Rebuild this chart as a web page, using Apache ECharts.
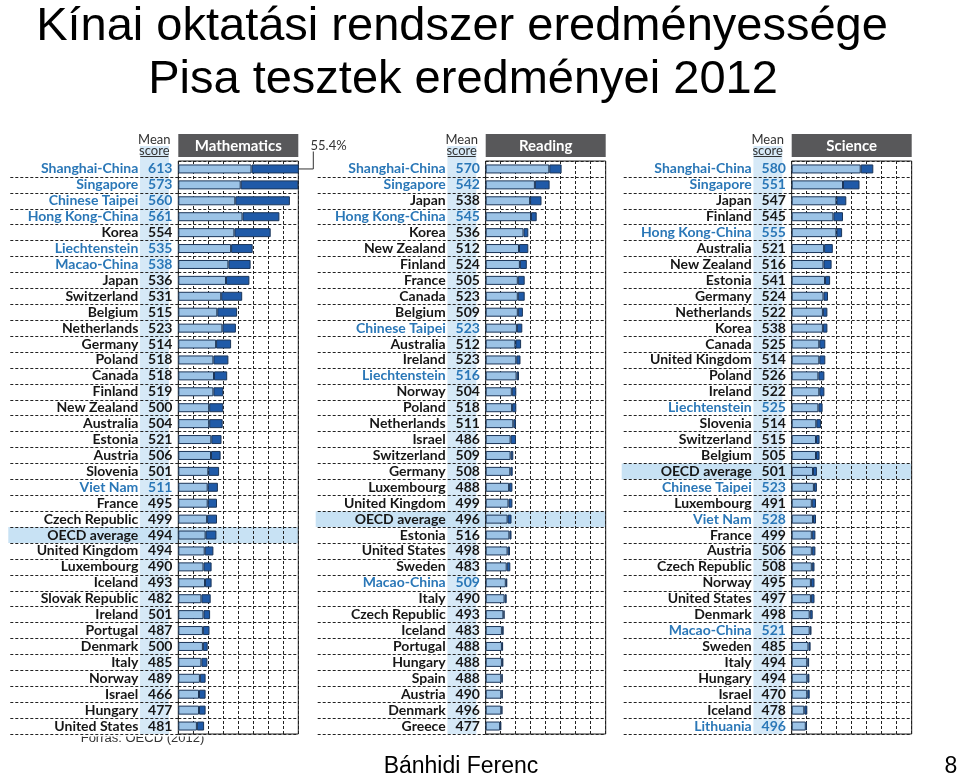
<!DOCTYPE html>
<html><head><meta charset="utf-8">
<script src="https://cdn.jsdelivr.net/npm/echarts@6/dist/echarts.min.js"></script>
<style>html,body{margin:0;padding:0;background:#fff}#c{width:960px;height:776px}</style>
</head><body><div id="c"></div>
<script>
// ---------- DATA ----------
const mathCountries = ['Shanghai-China','Singapore','Chinese Taipei','Hong Kong-China','Korea','Liechtenstein','Macao-China','Japan','Switzerland','Belgium','Netherlands','Germany','Poland','Canada','Finland','New Zealand','Australia','Estonia','Austria','Slovenia','Viet Nam','France','Czech Republic','OECD average','United Kingdom','Luxembourg','Iceland','Slovak Republic','Ireland','Portugal','Denmark','Italy','Norway','Israel','Hungary','United States'];
const mathScores = [613,573,560,561,554,535,538,536,531,515,523,514,518,518,519,500,504,521,506,501,511,495,499,494,494,490,493,482,501,487,500,485,489,466,477,481];
const mathLevel5 = [24.4,20.8,19.0,21.4,18.7,17.6,16.7,15.9,14.3,13.0,14.7,12.6,11.7,11.9,11.7,10.3,10.3,11.0,10.9,10.0,9.8,9.8,9.6,9.1,8.8,8.4,8.9,7.7,8.4,8.2,8.2,7.7,7.2,6.9,6.9,6.2];
const mathLevel6 = [31.0,19.2,18.2,12.3,12.1,7.2,7.4,7.8,7.0,6.6,4.5,5.0,5.0,4.4,3.3,4.7,4.5,3.4,3.2,3.6,3.4,3.1,3.3,3.6,2.9,2.7,2.2,3.1,2.2,2.2,1.6,2.0,1.9,2.2,2.2,2.4];

const readCountries = ['Shanghai-China','Singapore','Japan','Hong Kong-China','Korea','New Zealand','Finland','France','Canada','Belgium','Chinese Taipei','Australia','Ireland','Liechtenstein','Norway','Poland','Netherlands','Israel','Switzerland','Germany','Luxembourg','United Kingdom','OECD average','Estonia','United States','Sweden','Macao-China','Italy','Czech Republic','Iceland','Portugal','Hungary','Spain','Austria','Denmark','Greece'];
const readScores = [570,542,538,545,536,512,524,505,523,509,523,512,523,516,504,518,511,486,509,508,488,499,496,516,498,483,509,490,493,483,488,488,488,490,496,477];
const readLevel5 = [21.2,16.4,14.8,15.1,12.6,11.1,11.4,10.7,10.7,10.7,10.4,9.9,10.2,10.3,8.7,8.8,9.2,8.3,8.3,8.2,7.8,7.6,7.3,7.9,7.3,7.0,6.7,6.3,5.9,5.4,5.4,5.4,5.2,5.2,5.2,4.8];
const readLevel6 = [4.1,4.9,3.8,1.9,1.6,3.1,2.3,2.3,2.3,1.7,1.8,1.9,1.4,0.8,1.5,1.4,0.9,1.8,0.9,0.8,1.1,1.3,1.3,0.7,0.8,1.2,0.5,0.7,0.4,0.6,0.4,0.5,0.5,0.5,0.4,0.4];

const sciCountries = ['Shanghai-China','Singapore','Japan','Finland','Hong Kong-China','Australia','New Zealand','Estonia','Germany','Netherlands','Korea','Canada','United Kingdom','Poland','Ireland','Liechtenstein','Slovenia','Switzerland','Belgium','OECD average','Chinese Taipei','Luxembourg','Viet Nam','France','Austria','Czech Republic','Norway','United States','Denmark','Macao-China','Sweden','Italy','Hungary','Israel','Iceland','Lithuania'];
const sciScores = [580,551,547,545,555,521,516,541,524,522,538,525,514,526,522,525,514,515,505,501,523,491,528,499,506,508,495,497,498,521,485,494,494,470,478,496];
const sciLevel5 = [23.0,17.1,14.9,13.9,14.9,10.8,10.6,11.1,10.6,10.4,10.4,9.2,9.2,8.9,9.2,8.9,8.2,8.1,8.1,7.1,7.4,6.7,7.1,6.7,6.7,6.7,6.4,6.4,6.0,6.0,5.6,5.2,5.2,5.2,4.2,4.7];
const sciLevel6 = [4.2,5.5,3.3,3.2,1.9,2.9,2.7,1.7,1.5,1.5,1.5,2.0,2.0,2.0,1.7,1.4,1.6,1.2,1.2,1.3,1.0,1.4,1.0,1.2,1.2,0.9,1.2,1.2,1.0,0.6,0.7,0.6,0.7,0.8,1.0,0.4];

const partnerEconomies = ['Shanghai-China','Singapore','Chinese Taipei','Hong Kong-China','Liechtenstein','Macao-China','Viet Nam','Lithuania'];
const panelTitles = ['Mathematics','Reading','Science'];
const shanghaiMathTotalLabel = '55.4%';
const xMin = 0, xMax = 40, xInterval = 5;

// ---------- LAYOUT ----------
const panels = [
  {countries: mathCountries, scores: mathScores, l5: mathLevel5, l6: mathLevel6},
  {countries: readCountries, scores: readScores, l5: readLevel5, l6: readLevel6},
  {countries: sciCountries, scores: sciScores, l5: sciLevel5, l6: sciLevel6}
];
const GRID_LEFT = [178.3, 485.7, 791.7];
const GRID_W = 120, GRID_TOP = 161, GRID_H = 573;
const TICK_LEN = 170;
const FONT = 'Lato, "Open Sans", sans-serif';
const BLUE = '#2a77b7', BLACK = '#161616';
const DASH = {color: '#222', type: [3, 2], width: 1};

const chart = echarts.init(document.getElementById('c'));

const grids = [], xAxes = [], yAxes = [], series = [];
const nameStyle = (c) => ({color: c, fontFamily: FONT, fontWeight: 700, fontSize: 14, padding: [0, 6, 0, 0]});
const scoreStyle = (c) => ({color: c, fontFamily: FONT, fontWeight: 700, fontSize: 14, width: 32, align: 'left'});
panels.forEach((p, i) => {
  grids.push({left: GRID_LEFT[i], top: GRID_TOP, width: GRID_W, height: GRID_H,
    show: true, borderColor: '#222', borderWidth: 1, backgroundColor: 'transparent'});
  xAxes.push({gridIndex: i, type: 'value', min: xMin, max: xMax, interval: xInterval, position: 'top',
    axisLabel: {show: false}, axisTick: {show: false}, axisLine: {show: false},
    splitLine: {show: true, lineStyle: DASH}});
  yAxes.push({gridIndex: i, type: 'category', inverse: true, data: p.countries,
    axisLine: {show: false},
    axisTick: {show: true, length: TICK_LEN, interval: (idx) => idx !== 0, lineStyle: DASH},
    splitLine: {show: true, interval: 0, lineStyle: DASH},
    axisLabel: {
      margin: 2, interval: 0,
      formatter: (v, idx) => {
        const isP = partnerEconomies.includes(v);
        return `{${isP ? 'pn' : 'bn'}|${v}}{${isP ? 'ps' : 'bs'}|${p.scores[idx]}}`;
      },
      rich: {bn: nameStyle(BLACK), pn: nameStyle(BLUE), bs: scoreStyle(BLACK), ps: scoreStyle(BLUE)}
    }});
  series.push({type: 'bar', name: 'Level 5', xAxisIndex: i, yAxisIndex: i, stack: 's' + i, data: p.l5,
    barWidth: 9, clip: true, silent: true,
    itemStyle: {color: '#9cc3e6', borderColor: '#1b3558', borderWidth: 1}});
  series.push({type: 'bar', name: 'Level 6', xAxisIndex: i, yAxisIndex: i, stack: 's' + i, data: p.l6,
    barWidth: 9, clip: true, silent: true,
    itemStyle: {color: '#1f5aa8', borderColor: '#1b3558', borderWidth: 1}});
});

chart.setOption({
  animation: false,
  backgroundColor: '#fff',
  textStyle: {fontFamily: FONT},
  grid: grids, xAxis: xAxes, yAxis: yAxes, series: series
});

// ---------- DECORATION (positions from the library's scales) ----------
const g = [];
const bandH = GRID_H / 36;
panels.forEach((p, i) => {
  const L = GRID_LEFT[i];
  g.push({type: 'rect', z: -10, shape: {x: L - 38.3, y: 146, width: 29, height: GRID_TOP + GRID_H - 146},
    style: {fill: '#d6e9f7'}});
  const yo = chart.convertToPixel({yAxisIndex: i}, p.countries.indexOf('OECD average'));
  g.push({type: 'rect', z: -9, shape: {x: L - TICK_LEN, y: yo - bandH / 2, width: TICK_LEN + GRID_W, height: bandH},
    style: {fill: '#c8e2f4'}});
  g.push({type: 'rect', z: 5, shape: {x: L, y: 134, width: GRID_W, height: 23}, style: {fill: '#58585a'}});
  g.push({type: 'text', z: 6, x: L + GRID_W / 2, y: 146, style: {text: panelTitles[i], fill: '#fff',
    font: 'bold 15px ' + FONT, align: 'center', verticalAlign: 'middle'}});
  g.push({type: 'text', z: 6, x: L - 24, y: 139.5, style: {text: 'Mean', fill: '#333',
    font: '13px ' + FONT, align: 'center', verticalAlign: 'middle'}});
  g.push({type: 'text', z: 6, x: L - 24, y: 151, style: {text: 'score', fill: '#333',
    font: '13px ' + FONT, align: 'center', verticalAlign: 'middle'}});
  g.push({type: 'line', z: 6, shape: {x1: L - 38, y1: 156.5, x2: L - 10, y2: 156.5}, style: {stroke: '#333', lineWidth: 1}});
});
const ps = chart.convertToPixel({xAxisIndex: 0, yAxisIndex: 0}, [xMax, 0]);
g.push({type: 'polyline', z: 6, shape: {points: [[ps[0], ps[1]], [313.3, ps[1]], [313.3, 151.5]]},
  style: {stroke: '#333', lineWidth: 1, fill: null}});
g.push({type: 'text', z: 6, x: 310.5, y: 145.5, style: {text: shanghaiMathTotalLabel, fill: '#333',
  font: '13px ' + FONT, align: 'left', verticalAlign: 'middle'}});

const SANS = '"Liberation Sans", Arial, sans-serif';
g.push({type: 'text', z: 6, x: 462, y: 27, style: {text: 'Kínai oktatási rendszer eredményessége', fill: '#000',
  font: '47px ' + SANS, align: 'center', verticalAlign: 'middle'}});
g.push({type: 'text', z: 6, x: 463, y: 80, style: {text: 'Pisa tesztek eredményei 2012', fill: '#000',
  font: '47px ' + SANS, align: 'center', verticalAlign: 'middle'}});
g.push({type: 'text', z: -20, x: 80.7, y: 738, style: {text: 'Forrás: OECD (2012)', fill: '#333',
  font: '13px ' + SANS, align: 'left', verticalAlign: 'middle'}});
g.push({type: 'rect', z: -15, shape: {x: 75, y: 731.5, width: 130, height: 5}, style: {fill: '#fff'}});
g.push({type: 'text', z: 6, x: 461, y: 767, style: {text: 'Bánhidi Ferenc', fill: '#000',
  font: '23px ' + SANS, align: 'center', verticalAlign: 'middle'}});
g.push({type: 'text', z: 6, x: 951, y: 767, style: {text: '8', fill: '#000',
  font: '23px ' + SANS, align: 'center', verticalAlign: 'middle'}});

chart.setOption({graphic: {elements: g}});
</script>
</body></html>
